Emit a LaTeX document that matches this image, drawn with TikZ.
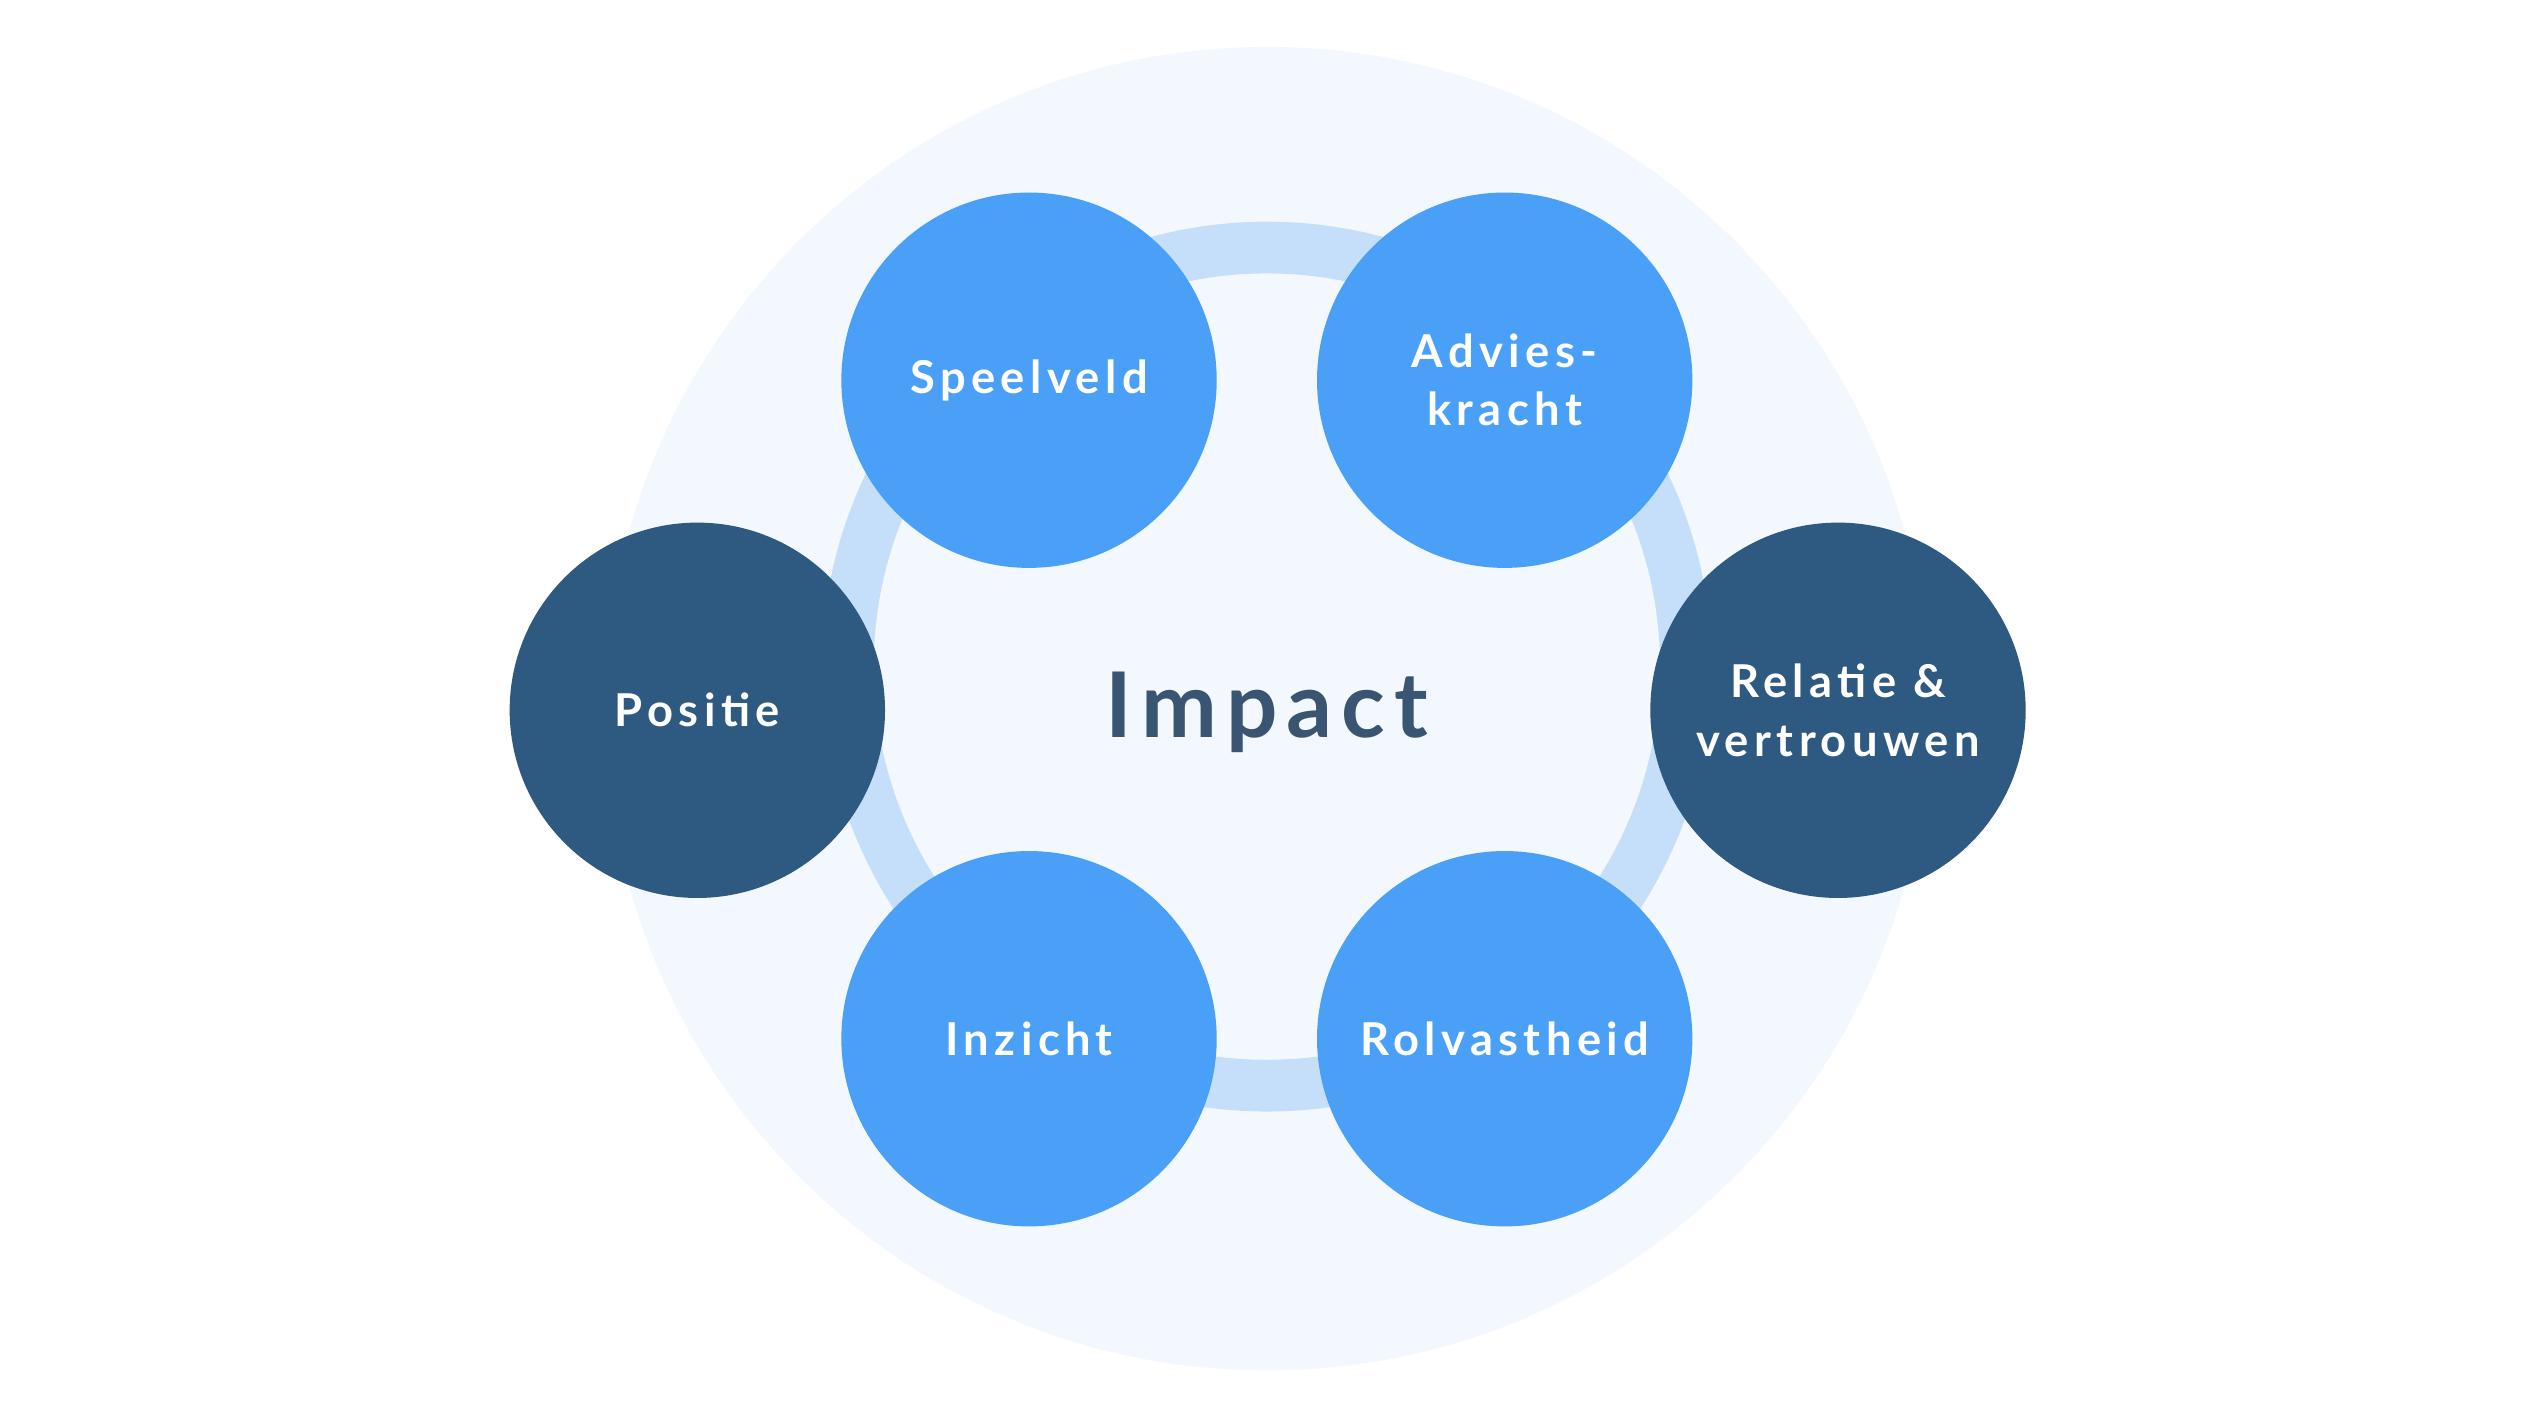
\documentclass[tikz,border=0pt]{standalone}
\usepackage{fontspec}
\setmainfont{Lato}
\newfontfamily\lbl[LetterSpace=12]{Lato Bold}
\newfontfamily\impf[LetterSpace=10]{Lato Bold}
\begin{document}
\begin{tikzpicture}[x=1pt,y=-1pt,
  ball/.style={circle,minimum size=232pt,inner sep=0pt,text=white,align=center,font=\lbl\fontsize{28}{36}\selectfont},
  lightb/.style={ball,fill=cLight},
  darkb/.style={ball,fill=cDark}]
\definecolor{cLight}{HTML}{4A9FF7}
\definecolor{cDark}{HTML}{2E5A82}
\definecolor{cRing}{HTML}{C5DFFA}
\definecolor{cBg}{HTML}{F3F8FE}
\definecolor{cText}{HTML}{3A5572}
\useasboundingbox (0,0) rectangle (1560,872);
\fill[white] (0,0) rectangle (1560,872);
\fill[cBg] (783,438) circle[radius=409];
\draw[cRing,line width=32pt] (783,412) circle[radius=259];
\node[font=\impf\fontsize{56}{60}\selectfont,text=cText] (imp) at (783,440) {Impact};
\node[lightb] (s) at (636,235) {Speelveld};
\node[lightb] (a) at (930,235) {Advies-\\kracht};
\node[darkb] (p) at (431,439) {Positie};
\node[darkb] (r) at (1136,439) {Relatie \&\\vertrouwen};
\node[lightb] (i) at (636,642) {Inzicht};
\node[lightb] (ro) at (930,642) {Rolvastheid};
\end{tikzpicture}
\end{document}
